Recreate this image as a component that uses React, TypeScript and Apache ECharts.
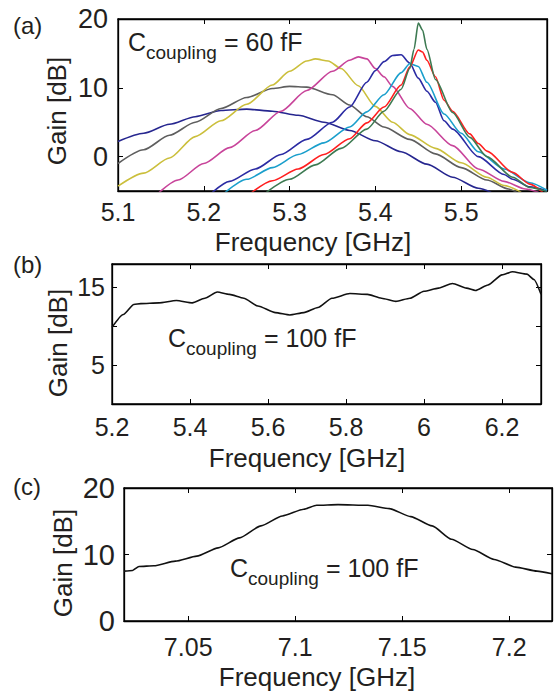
import React, { useEffect, useRef } from "react";
import * as echarts from "echarts";

// ---------- Panel (a): C_coupling = 60 fF, eight gain curves ----------
const curveA1: [number, number][] = [[5.10,2.2],[5.13,3.4],[5.16,4.7],[5.19,5.8],[5.22,6.7],[5.25,6.9],[5.28,6.6],[5.31,6.0],[5.34,5.0],[5.37,3.8],[5.40,2.3],[5.43,0.7],[5.46,-1.1],[5.49,-3.0],[5.52,-4.6],[5.535,-5.2]];
const curveA2: [number, number][] = [[5.10,-1.0],[5.13,1.0],[5.16,3.1],[5.19,5.0],[5.22,7.0],[5.25,8.6],[5.28,9.9],[5.30,10.2],[5.32,10.1],[5.35,9.0],[5.37,7.5],[5.39,5.8],[5.41,4.3],[5.44,2.5],[5.47,0.4],[5.50,-1.6],[5.53,-3.4],[5.555,-4.7],[5.565,-5.2]];
const curveA3: [number, number][] = [[5.10,-4.3],[5.13,-2.4],[5.16,-0.2],[5.19,2.9],[5.22,5.2],[5.25,7.6],[5.28,10.4],[5.30,12.4],[5.32,13.9],[5.33,14.2],[5.345,13.9],[5.36,12.8],[5.38,10.3],[5.40,7.3],[5.42,5.0],[5.44,3.2],[5.47,1.2],[5.50,-0.9],[5.53,-3.0],[5.55,-4.2],[5.57,-5.2]];
const curveA4: [number, number][] = [[5.148,-5.2],[5.17,-3.4],[5.20,-1.0],[5.23,1.3],[5.26,3.8],[5.29,6.6],[5.32,9.6],[5.35,12.4],[5.37,14.0],[5.38,14.5],[5.39,14.2],[5.40,12.8],[5.41,11.6],[5.42,10.2],[5.44,7.0],[5.46,4.7],[5.49,1.6],[5.52,-1.8],[5.55,-3.6],[5.575,-4.7],[5.59,-5.2]];
const curveA5: [number, number][] = [[5.21,-5.2],[5.23,-3.6],[5.26,-1.8],[5.29,0.3],[5.32,2.5],[5.35,5.0],[5.37,7.2],[5.39,10.8],[5.40,12.5],[5.41,13.8],[5.42,14.7],[5.43,14.8],[5.44,13.6],[5.45,11.4],[5.46,9.5],[5.47,7.9],[5.48,5.2],[5.49,4.0],[5.52,0.0],[5.55,-2.6],[5.56,-3.3],[5.58,-4.4],[5.60,-5.0]];
const curveA6: [number, number][] = [[5.225,-5.2],[5.25,-3.3],[5.28,-1.6],[5.31,0.3],[5.34,2.0],[5.37,4.3],[5.39,6.5],[5.41,9.0],[5.43,12.2],[5.44,13.5],[5.45,13.1],[5.46,10.8],[5.48,6.2],[5.50,3.4],[5.52,0.7],[5.55,-1.8],[5.58,-3.8],[5.60,-4.9]];
const curveA7: [number, number][] = [[5.256,-5.2],[5.28,-3.5],[5.31,-1.8],[5.34,0.3],[5.37,2.6],[5.39,4.9],[5.41,7.2],[5.43,10.4],[5.44,13.0],[5.45,15.5],[5.455,15.2],[5.46,14.0],[5.47,11.6],[5.48,8.2],[5.49,6.6],[5.51,3.3],[5.52,1.9],[5.53,0.8],[5.56,-2.3],[5.58,-4.0],[5.595,-5.2]];
const curveA8: [number, number][] = [[5.273,-5.2],[5.30,-3.3],[5.33,-1.2],[5.36,1.2],[5.39,4.0],[5.41,6.6],[5.43,9.8],[5.44,12.8],[5.445,15.6],[5.45,19.4],[5.455,18.4],[5.46,15.6],[5.47,11.2],[5.49,6.4],[5.51,2.8],[5.53,0.0],[5.56,-3.0],[5.58,-4.5],[5.60,-5.1]];
const curvesA = [curveA1, curveA2, curveA3, curveA4, curveA5, curveA6, curveA7, curveA8];
const colorsA = ["#26268f", "#5e5e5e", "#cbbf3c", "#c8449a", "#2b2ba3", "#1a9fcc", "#ff1f1f", "#3d7a52"];
const ticksAX = [5.1, 5.2, 5.3, 5.4, 5.5];
const ticksAY = [0, 10, 20];

// ---------- Panel (b): C_coupling = 100 fF ----------
const curveB: [number, number][] = [[5.2,9.85],[5.229,11.5],[5.256,12.8],[5.274,12.9],[5.32,13.0],[5.365,13.3],[5.406,13.0],[5.438,13.6],[5.47,14.4],[5.501,14.1],[5.538,13.6],[5.574,12.6],[5.619,11.75],[5.656,11.45],[5.692,11.75],[5.728,12.4],[5.764,13.6],[5.81,14.2],[5.855,14.1],[5.891,13.6],[5.928,13.2],[5.964,13.6],[6.0,14.5],[6.037,14.9],[6.073,15.5],[6.109,14.9],[6.132,14.6],[6.164,15.3],[6.2,16.6],[6.227,17.0],[6.264,16.7],[6.282,16.0],[6.3,14.1]];
const ticksBX = [5.2, 5.4, 5.6, 5.8, 6, 6.2];
const ticksBY = [5, 10, 15];
const labelsBY = [5, 15];

// ---------- Panel (c): C_coupling = 100 fF ----------
const curveC: [number, number][] = [[7.02,7.5],[7.024,7.6],[7.027,8.2],[7.034,8.3],[7.044,9.0],[7.054,9.75],[7.064,11.0],[7.074,12.5],[7.084,14.3],[7.094,15.8],[7.104,16.8],[7.11,17.4],[7.12,17.5],[7.134,17.4],[7.144,16.9],[7.154,15.7],[7.164,14.3],[7.173,12.3],[7.183,10.75],[7.193,9.25],[7.203,8.1],[7.213,7.5],[7.22,7.1]];
const ticksCX = [7.05, 7.1, 7.15, 7.2];
const ticksCY = [0, 10, 20];

const FONT = "'Liberation Sans', Arial, sans-serif";
const TXT = "#231f20";

function xAxisDef(grid: number, min: number, max: number, ticks: number[], margin: number, top = false) {
  return {
    type: "value", gridIndex: grid, min, max, position: top ? "top" : "bottom",
    axisLine: { show: true, onZero: false, lineStyle: { color: "#000", width: 1.3 } },
    axisTick: { show: true, inside: true, length: 5, customValues: ticks, lineStyle: { color: "#000", width: 1 } },
    axisLabel: { show: !top, customValues: ticks, margin, fontSize: 25, color: TXT, fontFamily: FONT, formatter: (v: number) => String(v) },
    splitLine: { show: false },
  };
}
function yAxisDef(grid: number, min: number, max: number, ticks: number[], labels: number[], margin: number, size: number, right = false) {
  return {
    type: "value", gridIndex: grid, min, max, position: right ? "right" : "left",
    axisLine: { show: true, onZero: false, lineStyle: { color: "#000", width: 1.3 } },
    axisTick: { show: true, inside: true, length: 5, customValues: ticks, lineStyle: { color: "#000", width: 1 } },
    axisLabel: { show: !right, customValues: labels, margin, fontSize: size, color: TXT, fontFamily: FONT, formatter: (v: number) => String(v) },
    splitLine: { show: false },
  };
}

function annotation(x: number, y: number, rest: string) {
  return [
    { type: "text", x, y, style: { text: "C", fontSize: 25, fontFamily: FONT, fill: TXT, verticalAlign: "middle", align: "left" } },
    { type: "text", x: x + 18, y: y + 10, style: { text: "coupling", fontSize: 19, fontFamily: FONT, fill: TXT, verticalAlign: "middle", align: "left" } },
    { type: "text", x: x + 96, y, style: { text: rest, fontSize: 25, fontFamily: FONT, fill: TXT, verticalAlign: "middle", align: "left" } },
  ];
}
function label(x: number, y: number, text: string, size: number, rotate = false) {
  return {
    type: "text", x, y, rotation: rotate ? Math.PI / 2 : 0,
    style: { text, fontSize: size, fontFamily: FONT, fill: TXT, align: rotate ? "center" : (text.startsWith("(") ? "left" : "center"), verticalAlign: "middle" },
  };
}

export default function App() {
  const ref = useRef<HTMLDivElement>(null);
  useEffect(() => {
    if (!ref.current) return;
    const chart = echarts.init(ref.current, null, { renderer: "svg" });
    const gridStyle = { show: true, borderColor: "#000", borderWidth: 1.3, backgroundColor: "transparent" };
    const seriesA = curvesA.map((c, i) => ({
      type: "line", xAxisIndex: 0, yAxisIndex: 0, data: c, showSymbol: false, smooth: 0.25, smoothMonotone: "x",
      lineStyle: { color: colorsA[i], width: 1.6 }, itemStyle: { color: colorsA[i] }, clip: true, silent: true,
    }));
    const option = {
      animation: false,
      backgroundColor: "#fff",
      grid: [
        { left: 118, top: 19, width: 429, height: 172, ...gridStyle },
        { left: 112, top: 264, width: 429, height: 140, ...gridStyle },
        { left: 124, top: 488, width: 428, height: 133, ...gridStyle },
      ],
      xAxis: [
        xAxisDef(0, 5.1, 5.6, ticksAX, 8),
        xAxisDef(1, 5.2, 6.3, ticksBX, 10),
        xAxisDef(2, 7.02, 7.22, ticksCX, 13),
        xAxisDef(0, 5.1, 5.6, ticksAX, 8, true),
        xAxisDef(1, 5.2, 6.3, ticksBX, 10, true),
        xAxisDef(2, 7.02, 7.22, ticksCX, 13, true),
      ],
      yAxis: [
        yAxisDef(0, -5, 20, ticksAY, ticksAY, 10, 27),
        yAxisDef(1, 0, 18, ticksBY, labelsBY, 7, 25),
        yAxisDef(2, 0, 20, ticksCY, ticksCY, 9, 29),
        yAxisDef(0, -5, 20, ticksAY, ticksAY, 10, 27, true),
        yAxisDef(1, 0, 18, ticksBY, labelsBY, 7, 25, true),
        yAxisDef(2, 0, 20, ticksCY, ticksCY, 9, 29, true),
      ],
      series: [
        ...seriesA,
        { type: "line", xAxisIndex: 1, yAxisIndex: 1, data: curveB, showSymbol: false, smooth: 0.2, smoothMonotone: "x", lineStyle: { color: "#111", width: 1.6 }, clip: true, silent: true },
        { type: "line", xAxisIndex: 2, yAxisIndex: 2, data: curveC, showSymbol: false, smooth: 0.2, smoothMonotone: "x", lineStyle: { color: "#111", width: 1.6 }, clip: true, silent: true },
      ],
      graphic: [
        label(13, 25, "(a)", 24),
        label(13, 264, "(b)", 24),
        label(13, 486, "(c)", 24),
        label(313, 242, "Frequency [GHz]", 26),
        label(307, 458, "Frequency [GHz]", 26),
        label(317, 677, "Frequency [GHz]", 26),
        label(57, 111, "Gain [dB]", 26, true),
        label(58, 343, "Gain [dB]", 26, true),
        label(63, 563, "Gain [dB]", 26, true),
        ...annotation(128, 42, "= 60 fF"),
        ...annotation(168, 338, "= 100 fF"),
        ...annotation(230, 568, "= 100 fF"),
      ],
    };
    chart.setOption(option as any);
    return () => chart.dispose();
  }, []);
  return <div ref={ref} style={{ position: "absolute", left: 0, top: 0, width: 554, height: 692 }} />;
}
